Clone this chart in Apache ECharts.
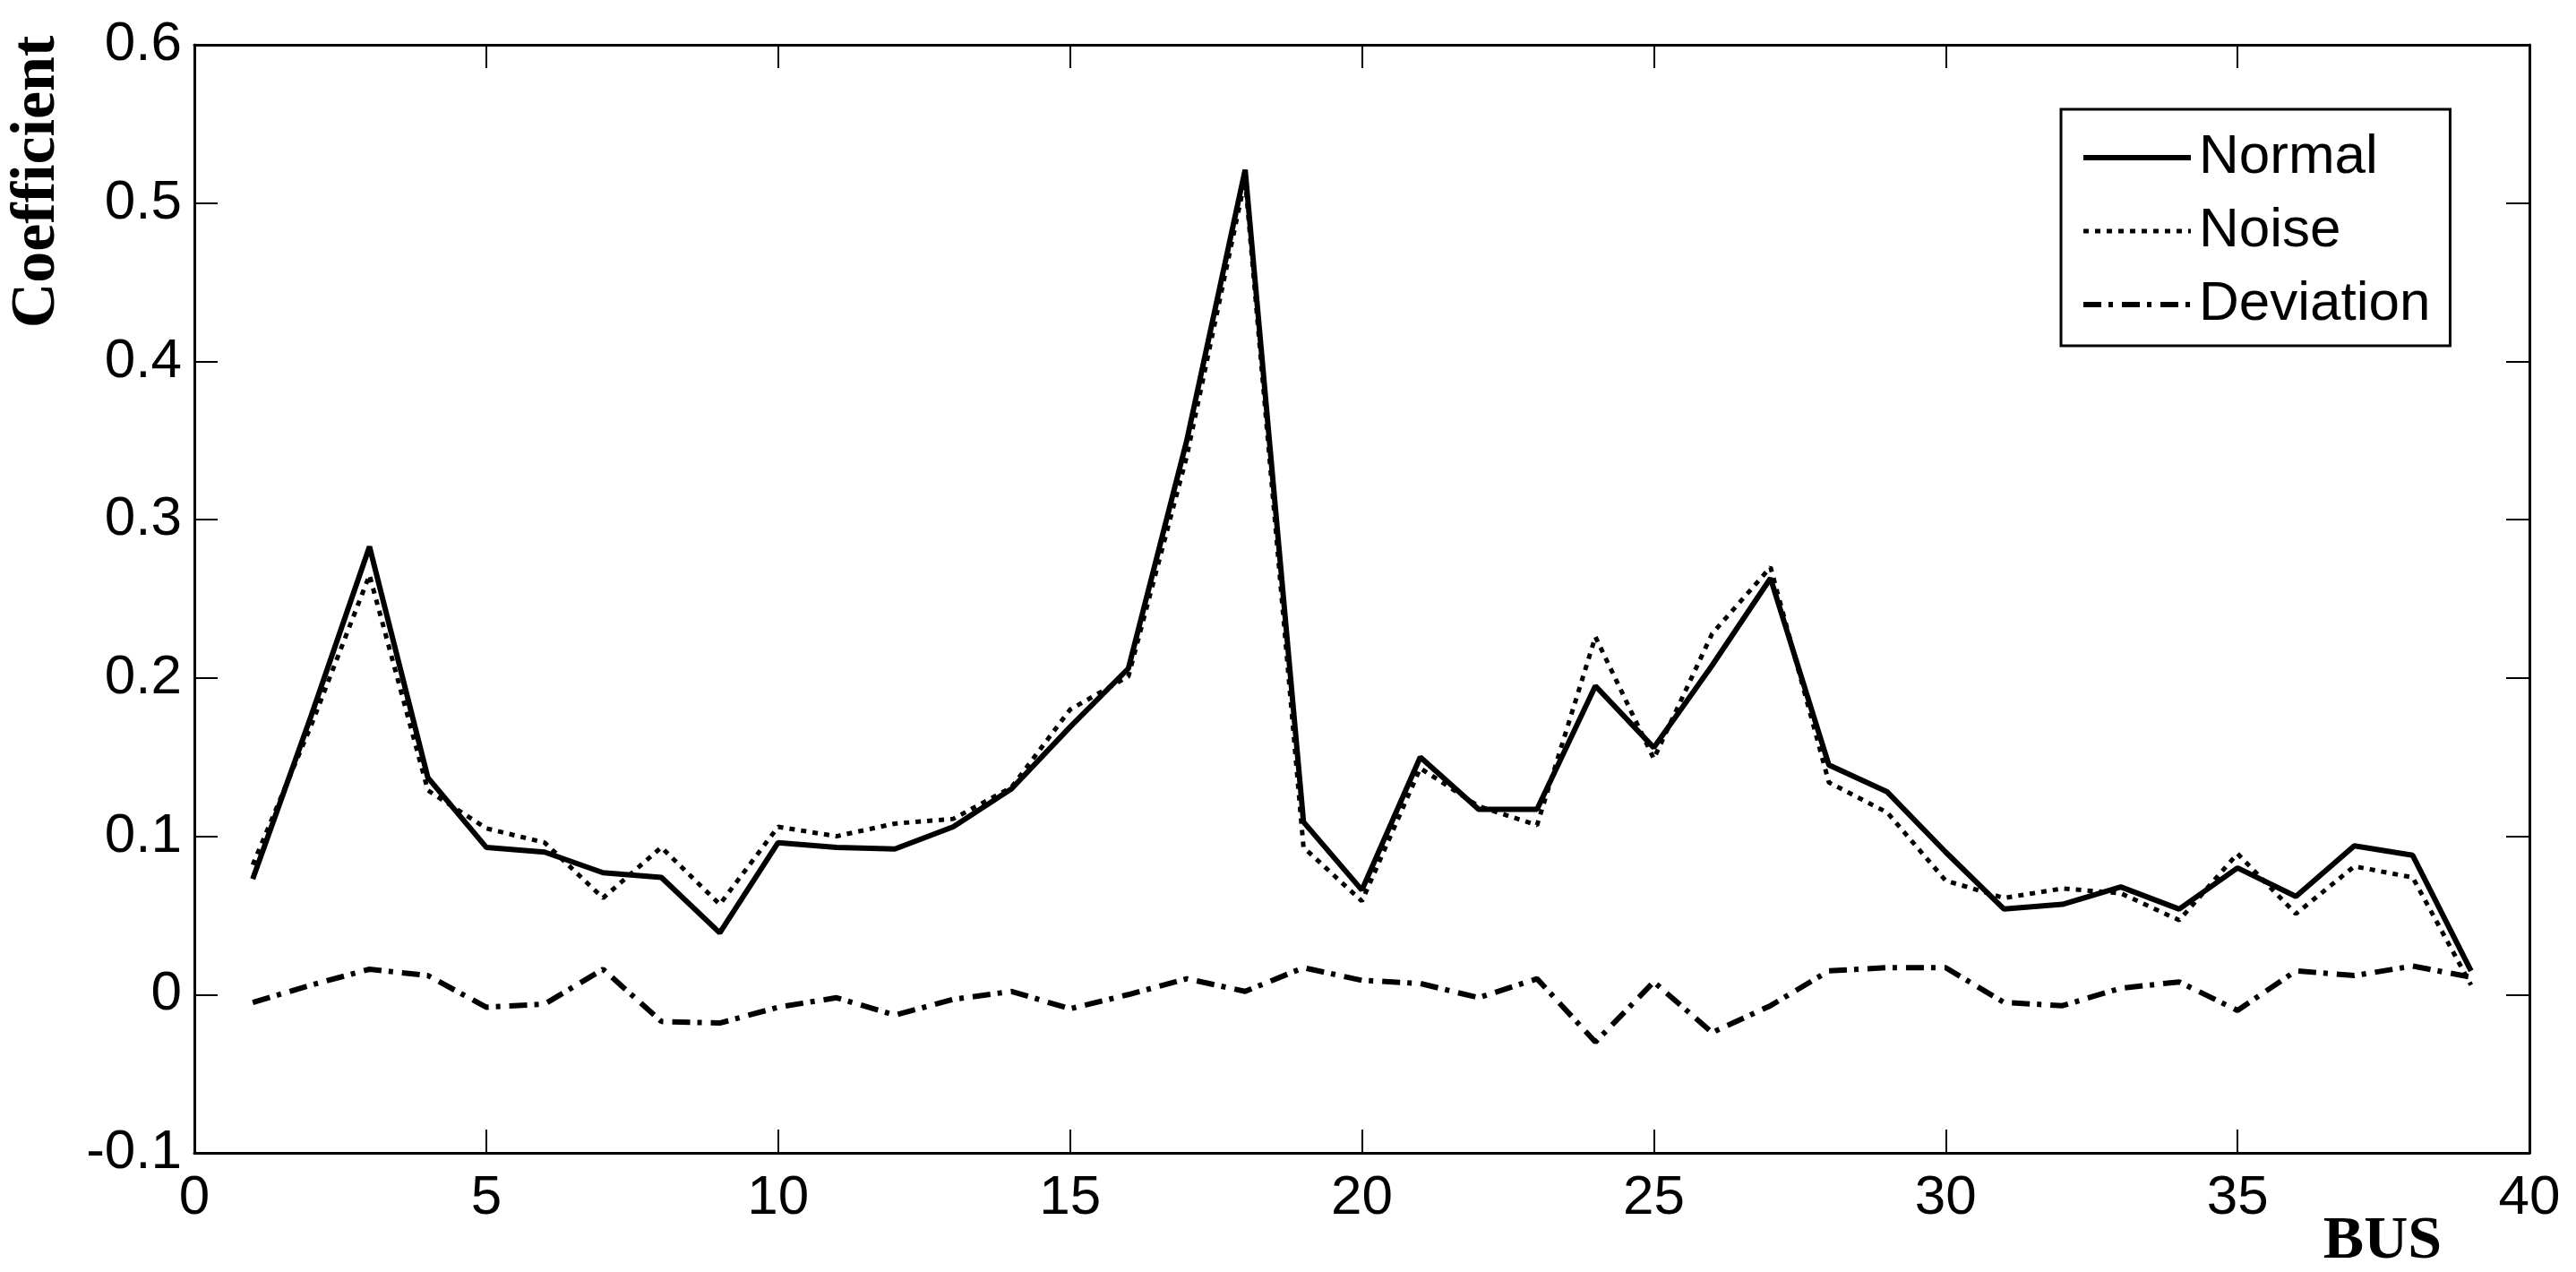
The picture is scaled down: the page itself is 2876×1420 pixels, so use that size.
<!DOCTYPE html>
<html>
<head>
<meta charset="utf-8">
<script src="https://cdn.jsdelivr.net/npm/echarts@6/dist/echarts.min.js"></script>
<style>
  html, body { margin: 0; padding: 0; background: #fff; }
  #chart { width: 2876px; height: 1420px; }
</style>
</head>
<body>
<div id="chart"></div>
<script>
var buses = [1, 2, 3, 4, 5, 6, 7, 8, 9, 10, 11, 12, 13, 14, 15, 16, 17, 18, 19, 20,
	21, 22, 23, 24, 25, 26, 27, 28, 29, 30, 31, 32, 33, 34, 35, 36, 37, 38, 39];

var normal = [0.073, 0.176, 0.283, 0.137, 0.093, 0.090, 0.077, 0.074, 0.039, 0.096,
	0.093, 0.092, 0.106, 0.130, 0.169, 0.206, 0.350, 0.521, 0.109, 0.066,
	0.150, 0.117, 0.117, 0.195, 0.156, 0.208, 0.263, 0.145, 0.128, 0.090,
	0.054, 0.057, 0.068, 0.054, 0.080, 0.062, 0.094, 0.088, 0.015];

var noise = [0.082, 0.170, 0.265, 0.129, 0.105, 0.096, 0.061, 0.093, 0.057, 0.106,
	0.100, 0.108, 0.111, 0.131, 0.180, 0.201, 0.340, 0.515, 0.093, 0.059,
	0.143, 0.119, 0.107, 0.226, 0.149, 0.228, 0.270, 0.134, 0.115, 0.072,
	0.061, 0.067, 0.064, 0.047, 0.089, 0.051, 0.081, 0.074, 0.006];

var deviation = [-0.005, 0.006, 0.016, 0.012, -0.008, -0.006, 0.016, -0.017, -0.018, -0.008,
	-0.002, -0.013, -0.003, 0.002, -0.009, 0.000, 0.010, 0.002, 0.017, 0.009,
	0.007, -0.002, 0.010, -0.030, 0.008, -0.024, -0.007, 0.015, 0.017, 0.017,
	-0.005, -0.007, 0.004, 0.008, -0.010, 0.015, 0.012, 0.018, 0.011];

function pairs(values) {
	return buses.map(function (b, i) {
		return [b, values[i]];
	});
}

var labelFont = {
	color: '#000',
	fontFamily: 'Liberation Sans',
	fontSize: 62
};

// box style axes: ticks point inwards on all four sides
function boxAxis(extra) {
	return Object.assign({
		type: 'value',
		axisLine: { onZero: false, lineStyle: { color: '#000', width: 3 } },
		axisTick: { inside: true, length: 26, lineStyle: { color: '#000', width: 2 } },
		splitLine: { show: false }
	}, extra);
}

var chart = echarts.init(document.getElementById('chart'));
chart.setOption({
	animation: false,
	backgroundColor: '#fff',
	grid: {
		left: 217,
		right: 52,
		top: 50,
		bottom: 133
	},
	graphic: [{
		type: 'text',
		x: 42,
		y: 203,
		rotation: Math.PI / 2,
		style: {
			text: 'Coefficient',
			fontFamily: 'Liberation Serif',
			fontWeight: 'bold',
			fontSize: 70,
			fill: '#000',
			textAlign: 'center',
			textVerticalAlign: 'middle'
		}
	}, {
		type: 'text',
		x: 2660,
		y: 1386,
		style: {
			text: 'BUS',
			fontFamily: 'Liberation Serif',
			fontWeight: 'bold',
			fontSize: 68,
			fill: '#000',
			textAlign: 'center',
			textVerticalAlign: 'middle'
		}
	}],
	legend: {
		orient: 'vertical',
		left: 2301,
		top: 122,
		padding: [23, 22, 15, 22],
		itemGap: 20,
		itemWidth: 120,
		itemHeight: 8,
		backgroundColor: '#fff',
		borderColor: '#000',
		borderWidth: 3,
		textStyle: Object.assign({ padding: [0, 0, 0, 4] }, labelFont),
		itemStyle: { opacity: 0 },
		lineStyle: { width: 'inherit' },
		data: ['Normal', 'Noise', 'Deviation']
	},
	xAxis: [
		boxAxis({ min: 0, max: 40, interval: 5, position: 'bottom',
			axisLabel: Object.assign({ margin: 20 }, labelFont) }),
		boxAxis({ min: 0, max: 40, interval: 5, position: 'top',
			axisLabel: { show: false } })
	],
	yAxis: [
		boxAxis({ min: -0.1, max: 0.6, interval: 0.1, position: 'left',
			axisLabel: Object.assign({ margin: 14 }, labelFont) }),
		boxAxis({ min: -0.1, max: 0.6, interval: 0.1, position: 'right',
			axisLabel: { show: false } })
	],
	series: [{
		name: 'Normal',
		type: 'line',
		symbol: 'none',
		data: pairs(normal),
		lineStyle: { color: '#000', width: 6, type: 'solid' },
		itemStyle: { color: '#000' },
		z: 3
	}, {
		name: 'Noise',
		type: 'line',
		symbol: 'none',
		data: pairs(noise),
		lineStyle: { color: '#000', width: 5, type: [6, 7] },
		itemStyle: { color: '#000' },
		z: 2
	}, {
		name: 'Deviation',
		type: 'line',
		symbol: 'none',
		data: pairs(deviation),
		lineStyle: { color: '#000', width: 6, type: [20, 8, 5, 10] },
		itemStyle: { color: '#000' },
		z: 2
	}]
});
</script>
</body>
</html>
